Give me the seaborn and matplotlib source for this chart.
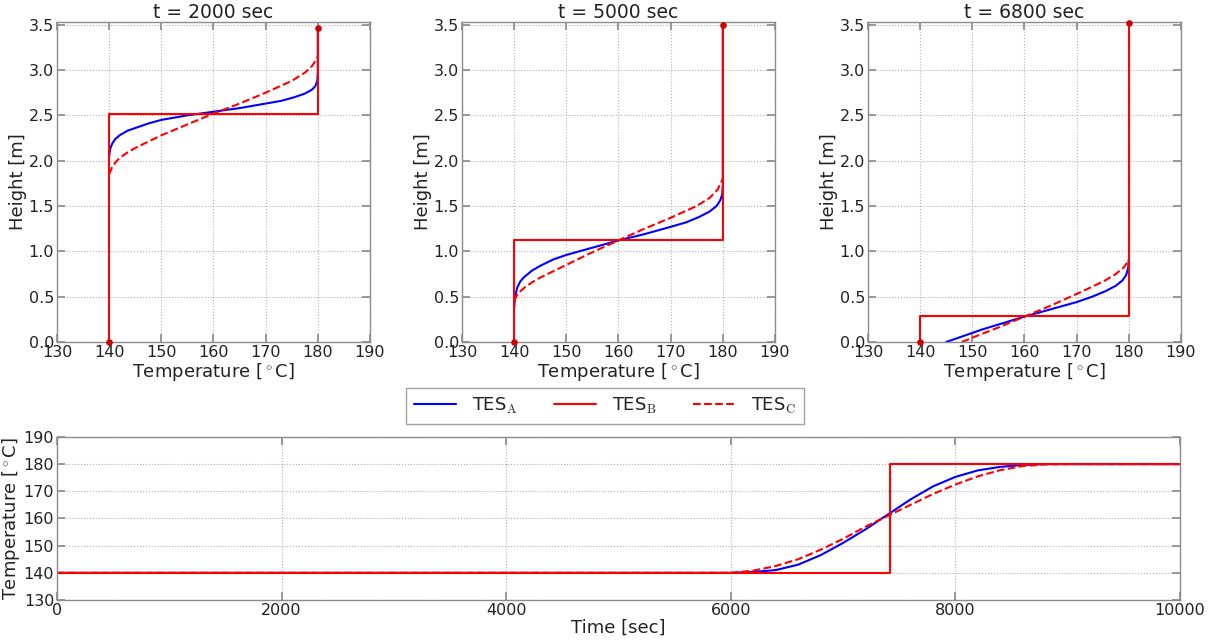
import numpy as np
import pandas as pd
import matplotlib
matplotlib.use("Agg")
import matplotlib.pyplot as plt
import seaborn as sns

# --- data ---
times = [2000, 5000, 6800]

# TES_A profiles (temperature, height)
a_temp = [
    [140, 140.2, 140.6, 141.2, 142, 143.5, 145, 147.5, 150, 155, 160, 165, 170, 173, 175.5, 177.5, 178.8, 179.5, 179.9, 180, 180],
    [140, 140.2, 140.6, 141.2, 142, 143.5, 145, 147.5, 150, 155, 160, 165, 170, 173, 175.5, 177.5, 178.8, 179.5, 179.9, 180, 180],
    [145, 146.5, 148, 150, 152, 156, 160, 165, 170, 173, 175.5, 177.5, 178.8, 179.5, 179.9, 180],
]
a_height = [
    [2.05, 2.13, 2.19, 2.24, 2.28, 2.33, 2.36, 2.41, 2.45, 2.5, 2.54, 2.58, 2.63, 2.66, 2.7, 2.74, 2.78, 2.82, 2.88, 2.98, 3.46],
    [0.38, 0.5, 0.6, 0.67, 0.72, 0.79, 0.84, 0.91, 0.96, 1.04, 1.12, 1.19, 1.27, 1.32, 1.38, 1.44, 1.5, 1.56, 1.63, 1.72, 3.5],
    [0.0, 0.03, 0.06, 0.1, 0.14, 0.21, 0.28, 0.36, 0.44, 0.5, 0.56, 0.62, 0.68, 0.74, 0.82, 0.92],
]
# TES_C profiles
c_temp = [
    [140, 140.5, 141.2, 142, 143.5, 145, 147.5, 150, 155, 160, 165, 170, 175, 177.5, 179, 180],
    [140, 140.5, 141.2, 142, 143.5, 145, 147.5, 150, 155, 160, 165, 170, 175, 177.5, 179, 180],
    [148, 151, 155, 160, 165, 170, 173, 175.5, 177.5, 179, 180],
]
c_height = [
    [1.85, 1.92, 1.98, 2.03, 2.09, 2.14, 2.21, 2.28, 2.4, 2.52, 2.63, 2.75, 2.88, 2.97, 3.05, 3.15],
    [0.45, 0.51, 0.56, 0.6, 0.66, 0.71, 0.78, 0.85, 0.99, 1.12, 1.25, 1.37, 1.5, 1.59, 1.68, 1.8],
    [0.0, 0.07, 0.16, 0.28, 0.4, 0.53, 0.61, 0.68, 0.75, 0.82, 0.9],
]
# TES_B: sharp front
b_front = [2.52, 1.12, 0.29]
b_top = [3.46, 3.50, 3.52]
t_cold, t_hot = 140, 180

# outlet temperature history
a_time = [0, 6000, 6200, 6400, 6600, 6800, 7000, 7200, 7400, 7600, 7800, 8000, 8200, 8400, 8600, 8800, 10000]
a_out = [140, 140, 140.3, 141, 143, 146.5, 151, 156, 161.5, 167, 171.8, 175.3, 177.7, 179, 179.7, 180, 180]
c_time = [0, 6000, 6200, 6400, 6600, 6800, 7000, 7200, 7400, 7600, 7800, 8000, 8200, 8400, 8600, 8800, 9000, 10000]
c_out = [140, 140, 140.8, 142.5, 145, 148.5, 152.5, 157, 161, 165, 169, 172.5, 175.5, 177.8, 179.3, 179.9, 180, 180]
b_switch = 7420
t_end = 10000

sns.set_theme(style="ticks")
plt.rcParams.update({
    "font.family": ["DejaVu Sans"],
    "mathtext.fontset": "cm",
    "axes.edgecolor": "#8c8c8c",
    "axes.linewidth": 1.0,
    "xtick.direction": "in",
    "ytick.direction": "in",
    "xtick.top": True,
    "ytick.right": True,
    "xtick.major.pad": 2,
    "ytick.major.pad": 2,
    "xtick.color": "#8c8c8c",
    "ytick.color": "#8c8c8c",
    "xtick.labelcolor": "#222222",
    "ytick.labelcolor": "#222222",
    "xtick.labelsize": 11.5,
    "ytick.labelsize": 11.5,
    "axes.labelsize": 13,
    "axes.titlesize": 13.5,
    "axes.labelcolor": "#222222",
    "text.color": "#222222",
})

fig = plt.figure(figsize=(12.15, 6.41), dpi=100)
lefts = [0.0469, 0.3802, 0.7144]
axes = [fig.add_axes([l, 0.4665, 0.2576, 0.4992]) for l in lefts]
ax_b = fig.add_axes([0.0469, 0.064, 0.9243, 0.2543])

grid_kw = dict(color="#b0b0b0", linestyle=":", linewidth=0.8)

for i, ax in enumerate(axes):
    dfa = pd.DataFrame({"T": a_temp[i], "h": a_height[i]})
    dfc = pd.DataFrame({"T": c_temp[i], "h": c_height[i]})
    dfb = pd.DataFrame({"T": [t_cold, t_cold, t_hot, t_hot],
                        "h": [0, b_front[i], b_front[i], b_top[i]]})
    sns.lineplot(data=dfa, x="T", y="h", ax=ax, sort=False, estimator=None,
                 color="blue", lw=1.5)
    sns.lineplot(data=dfc, x="T", y="h", ax=ax, sort=False, estimator=None,
                 color="red", lw=1.5, linestyle="--")
    sns.lineplot(data=dfb, x="T", y="h", ax=ax, sort=False, estimator=None,
                 color="red", lw=1.5)
    ax.scatter([t_cold, t_hot], [0, b_top[i]], color="#cc0000", s=14, zorder=5, clip_on=False)
    ax.set_xlim(130, 190)
    ax.set_ylim(0, 3.53)
    ax.set_xticks(range(130, 191, 10))
    ax.set_yticks(np.arange(0, 3.51, 0.5))
    ax.grid(True, **grid_kw)
    ax.set_xlabel("Temperature [$^\\circ$C]", labelpad=1)
    ax.set_ylabel("Height [m]", labelpad=1)
    ax.set_title(f"t = {times[i]} sec", pad=3)

dfa = pd.DataFrame({"t": a_time, "T": a_out})
dfc = pd.DataFrame({"t": c_time, "T": c_out})
dfb = pd.DataFrame({"t": [0, b_switch, b_switch, t_end],
                    "T": [t_cold, t_cold, t_hot, t_hot]})
sns.lineplot(data=dfa, x="t", y="T", ax=ax_b, sort=False, estimator=None, color="blue", lw=1.5)
sns.lineplot(data=dfc, x="t", y="T", ax=ax_b, sort=False, estimator=None, color="red", lw=1.5, linestyle="--")
sns.lineplot(data=dfb, x="t", y="T", ax=ax_b, sort=False, estimator=None, color="red", lw=1.5)
ax_b.set_xlim(0, 10000)
ax_b.set_ylim(130, 190)
ax_b.set_yticks(range(130, 191, 10))
ax_b.set_xticks(range(0, 10001, 2000))
ax_b.grid(True, **grid_kw)
ax_b.set_xlabel("Time [sec]", labelpad=1)
ax_b.set_ylabel("Temperature [$^\\circ$C]", labelpad=1)

handles = [plt.Line2D([], [], color="blue", lw=1.5),
           plt.Line2D([], [], color="red", lw=1.5),
           plt.Line2D([], [], color="red", lw=1.5, linestyle="--")]
labels = ["TES$_\\mathrm{A}$", "TES$_\\mathrm{B}$", "TES$_\\mathrm{C}$"]
leg = fig.legend(handles, labels, loc="center", bbox_to_anchor=(0.498, 0.367), ncol=3,
                 fancybox=False, frameon=True, fontsize=13, handlelength=2.3,
                 columnspacing=2.0, handletextpad=0.9, borderpad=0.45)
leg.get_frame().set_edgecolor("#8c8c8c")
leg.get_frame().set_linewidth(1.0)

fig.savefig("out.png", dpi=100)
